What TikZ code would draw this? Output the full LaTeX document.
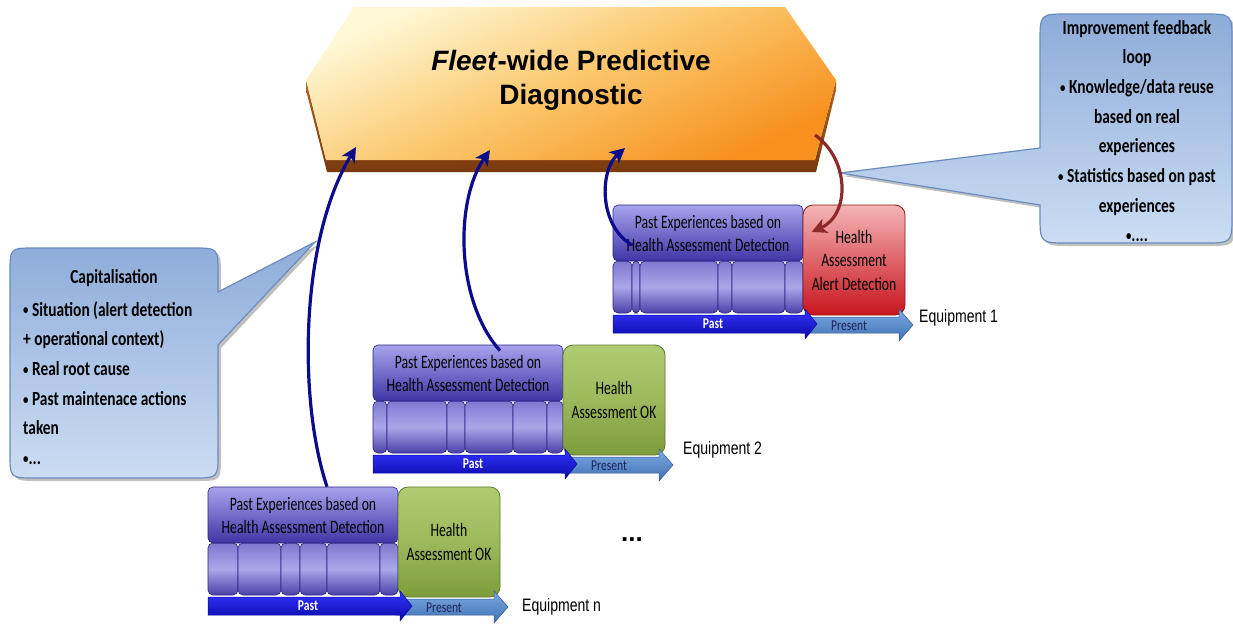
\documentclass[tikz,border=0pt]{standalone}
\usepackage{fontspec}
\setmainfont{Carlito}
\newfontfamily\condfont[FakeStretch=0.72]{Carlito}
\newfontfamily\callfont[FakeStretch=0.77]{Carlito}
\newfontfamily\titlefont{Liberation Sans}
\newfontfamily\labelfont[FakeStretch=0.78]{Liberation Sans}
\usetikzlibrary{arrows.meta,shadows,calc}
\newcommand\smbul{\raisebox{1.2pt}{\fontsize{14}{14}\selectfont•}}
\definecolor{pastTop}{HTML}{A7A3EC}
\definecolor{pastBot}{HTML}{3F35A6}
\definecolor{pastLine}{HTML}{2B2385}
\definecolor{segTop}{HTML}{7E78D0}
\definecolor{segMid}{HTML}{ABA7EA}
\definecolor{segBot}{HTML}{4A40A8}
\definecolor{redTop}{HTML}{F5B5B5}
\definecolor{redBot}{HTML}{C8141E}
\definecolor{redLine}{HTML}{8E1418}
\definecolor{grnTop}{HTML}{B0CC72}
\definecolor{grnBot}{HTML}{7D9C3A}
\definecolor{grnLine}{HTML}{5F7A2E}
\definecolor{tlPastTop}{HTML}{3535FF}
\definecolor{tlPastBot}{HTML}{0808A8}
\definecolor{tlPresTop}{HTML}{7EAAE2}
\definecolor{tlPresBot}{HTML}{3F70B5}
\definecolor{tlPresLine}{HTML}{2E5A98}
\definecolor{presText}{HTML}{1C2458}
\definecolor{callTop}{HTML}{8DACD9}
\definecolor{callBot}{HTML}{CCDDF3}
\definecolor{callLine}{HTML}{6B8CC0}
\definecolor{banTop}{HTML}{FFF8D6}
\definecolor{banMid}{HTML}{FBC66A}
\definecolor{banBot}{HTML}{F7901E}
\definecolor{banEdgeTop}{HTML}{B4621E}
\definecolor{banEdgeBot}{HTML}{7A3A0E}
\definecolor{arrBlue}{HTML}{0B0B8C}
\definecolor{arrRed}{HTML}{8E2A2A}
\tikzset{
  pastbox/.style={rectangle, rounded corners=5pt, draw=pastLine, line width=0.6pt,
    top color=pastTop, bottom color=pastBot, minimum width=190pt, minimum height=56pt,
    inner sep=0pt, align=center, font=\condfont\fontsize{19}{23}\selectfont, text=black},
  segbox/.style={rounded corners=5pt, draw=pastLine, line width=0.6pt,
    top color=segTop, bottom color=segBot, middle color=segMid},
  redbox/.style={rectangle, rounded corners=10pt, draw=redLine, line width=0.8pt,
    top color=redTop, bottom color=redBot, minimum width=102pt, minimum height=110pt,
    inner sep=0pt, align=center, font=\condfont\fontsize{19}{23.5}\selectfont, text=black},
  greenbox/.style={rectangle, rounded corners=10pt, draw=grnLine, line width=0.8pt,
    top color=grnTop, bottom color=grnBot, middle color=grnTop!60!grnBot, minimum width=102pt, minimum height=110pt,
    inner sep=0pt, align=center, font=\condfont\fontsize{19}{23.5}\selectfont, text=black},
  tlpast/.style={draw=tlPastBot, line width=0.5pt, top color=tlPastTop, bottom color=tlPastBot},
  tlpres/.style={draw=tlPresLine, line width=0.5pt, top color=tlPresTop, bottom color=tlPresBot},
  pastlbl/.style={font=\callfont\bfseries\fontsize{15}{17}\selectfont, text=white, inner sep=0pt},
  preslbl/.style={font=\callfont\fontsize{15}{17}\selectfont, text=presText, inner sep=0pt},
  eqlabel/.style={font=\labelfont\fontsize{18}{20}\selectfont, text=black, inner sep=0pt, anchor=west},
  callout/.style={draw=callLine, line width=1.2pt, top color=callTop, bottom color=callBot,
    drop shadow={shadow xshift=3pt, shadow yshift=-3pt, opacity=0.35, fill=black!70}},
  calltext/.style={font=\callfont\bfseries\fontsize{20}{29.7}\selectfont, text=black, inner sep=0pt},
  flowarrow/.style={draw=arrBlue, line width=3.2pt, -{Stealth[length=15pt,width=15pt,inset=4pt]}},
  backarrow/.style={draw=arrRed, line width=3.2pt, -{Stealth[length=15pt,width=15pt,inset=4pt]}},
}
\newcommand\equipgroup[9]{%
\begin{scope}[shift={(#2,#3)}]
  \foreach \sa/\sb in {#4} {\path[segbox] (\sa,56) rectangle (\sb,108);}
  \node[pastbox] (#1past) at (95,28) {Past Experiences based on\\Health Assessment Detection};
  \node[#5] (#1box) at (241,55) {#6};
  \path[tlpres] (188,112) -- (286,112) -- (286,104) -- (300,120) -- (286,136) -- (286,128) -- (188,128) -- cycle;
  \path[tlpast] (0,110) -- (192,110) -- (192,104) -- (204,119) -- (192,134) -- (192,128) -- (0,128) -- cycle;
  \node[pastlbl] (#1pastlbl) at (100,119) {Past};
  \node[preslbl] (#1preslbl) at (236,121) {Present};
  \node[eqlabel] (#1label) at (#8,#9) {#7};
\end{scope}}
\begin{document}
\begin{tikzpicture}[x=1pt,y=-1pt]
\useasboundingbox (0,0) rectangle (1233,624);
\fill[white] (0,0) rectangle (1233,624);

% banner
\path[top color=banEdgeTop, bottom color=banEdgeBot]
  (306,80) -- (326,160) -- (815,160) -- (836,80) -- (836,90) -- (816,172) -- (327,172) -- (306,90) -- cycle;
\path[top color=banTop, bottom color=banBot, middle color=banMid, shading angle=25]
  (354,7) -- (785,7) -- (836,80) -- (815,160) -- (326,160) -- (306,80) -- cycle;
\node[font=\titlefont\bfseries\fontsize{28}{34}\selectfont, align=center, inner sep=0pt] (title) at (571,80)
  {\textit{Fleet}-wide Predictive\\Diagnostic};
\coordinate (bA) at (356,147);
\coordinate (bB) at (490,150);
\coordinate (bC) at (625,148);
\coordinate (bR) at (815,135);

% left callout
\path[callout] (35,248) -- (193,248) .. controls (218,248) .. (218,273) -- (218,292) -- (315,242)
  -- (218,345) -- (218,453) .. controls (218,478) .. (193,478) -- (35,478)
  .. controls (10,478) .. (10,453) -- (10,273) .. controls (10,248) .. (35,248) -- cycle;
\node[calltext] (captitle) at (114,278) {Capitalisation};
\node[calltext, align=left, anchor=west] (caplist) at (23,383)
  {\smbul\ Situation (alert detection\\+ operational context)\\\smbul\ Real root cause\\\smbul\ Past maintenace actions\\taken\\\smbul...};

% right callout
\path[callout] (1068,14) -- (1204,14) .. controls (1232,14) .. (1232,42) -- (1232,215)
  .. controls (1232,243) .. (1204,243) -- (1068,243) .. controls (1040,243) .. (1040,215)
  -- (1040,205) -- (840,173) -- (1040,148) -- (1040,42) .. controls (1040,14) .. (1068,14) -- cycle;
\node[calltext, align=center] (improve) at (1137,131)
  {Improvement feedback\\loop\\\smbul\ Knowledge/data reuse\\based on real\\experiences\\\smbul\ Statistics based on past\\experiences\\\smbul....};

% equipment groups
\equipgroup{eq1}{613}{205}{0/19,19/27,27/105,105/119,119/172,172/190}{redbox}{Health\\Assessment\\Alert Detection}{Equipment 1}{306}{113}
\equipgroup{eq2}{373}{345}{0/14,14/74,74/92,92/140,140/174,174/190}{greenbox}{Health\\Assessment OK}{Equipment 2}{310}{105}
\equipgroup{eqn}{208}{487}{0/30,30/73,73/92,92/119,119/172,172/190}{greenbox}{Health\\Assessment OK}{Equipment n}{314}{120}

\node[font=\titlefont\bfseries\fontsize{26}{30}\selectfont, inner sep=0pt] (dots) at (632,540) {...};

% arrows
\draw[flowarrow] ($(eqnpast.north)+(24,0)$) .. controls (298,400) and (300,240) .. (bA);
\draw[flowarrow] ($(eq2past.north)+(32,6)$) .. controls (455,300) and (455,200) .. (bB);
\draw[flowarrow] ($(eq1past.center)+(-76,12)$) .. controls (598,225) and (600,170) .. (bC);
\draw[backarrow] (bR) .. controls (850,160) and (850,215) .. ($(eq1box.west)+(9,-28)$);
\end{tikzpicture}
\end{document}
